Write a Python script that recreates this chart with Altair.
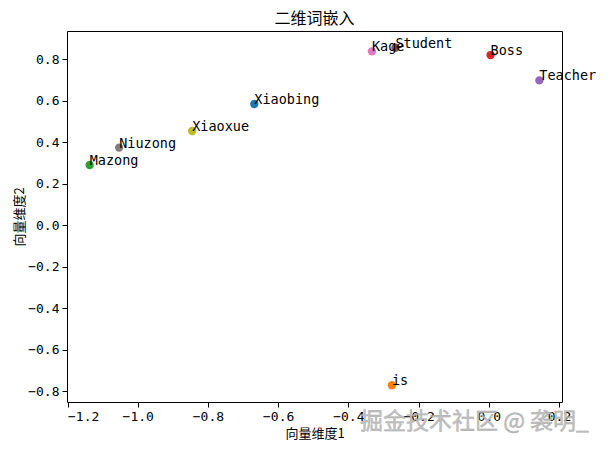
import altair as alt
import pandas as pd

words = ["Xiaobing", "is", "Mazong", "Boss", "Teacher", "Student", "Kage", "Niuzong", "Xiaoxue"]
dim1 = [-0.668, -0.276, -1.137, 0.005, 0.144, -0.266, -0.333, -1.053, -0.845]
dim2 = [0.583, -0.772, 0.289, 0.819, 0.697, 0.854, 0.837, 0.373, 0.453]
colors = ["#1f77b4", "#ff7f0e", "#2ca02c", "#d62728", "#9467bd",
          "#8c564b", "#e377c2", "#7f7f7f", "#bcbd22"]

x_ticks = [-1.2, -1.0, -0.8, -0.6, -0.4, -0.2, 0.0, 0.2]
y_ticks = [-0.8, -0.6, -0.4, -0.2, 0.0, 0.2, 0.4, 0.6, 0.8]
x_domain = [-1.2015, 0.2085]
y_domain = [-0.853, 0.935]

df = pd.DataFrame({"word": words, "d1": dim1, "d2": dim2})

LAT = "DejaVu Sans Mono, Noto Sans CJK SC"
CJK = "Noto Sans CJK SC"

x = alt.X("d1:Q", scale=alt.Scale(domain=x_domain, nice=False, zero=False),
          axis=alt.Axis(values=x_ticks, format=".1f", title="向量维度1",
                        titleFont=CJK, titleFontSize=13, titleFontWeight="normal",
                        titlePadding=4))
y = alt.Y("d2:Q", scale=alt.Scale(domain=y_domain, nice=False, zero=False),
          axis=alt.Axis(values=y_ticks, format=".1f", title="向量维度2",
                        titleFont=CJK, titleFontSize=13, titleFontWeight="normal",
                        titlePadding=1))

base = alt.Chart(df)

points = base.mark_circle(size=70, opacity=1).encode(
    x=x, y=y,
    color=alt.Color("word:N", scale=alt.Scale(domain=words, range=colors), legend=None),
)

labels = base.mark_text(align="left", baseline="alphabetic", font=LAT,
                        fontSize=13.5, color="black").encode(
    x=x, y=y, text="word:N"
)

wm_df = pd.DataFrame({"t": ["掘金技术社区 @ 袭明_"]})
watermark = alt.Chart(wm_df).mark_text(
    align="left", baseline="middle", font=CJK, fontSize=23,
    color="#bdbdbd", stroke="#9a9a9a", strokeWidth=0.4, opacity=0.9
).encode(x=alt.value(293), y=alt.value(391), text="t:N")

chart = alt.layer(points, labels, watermark).properties(
    width=495, height=371,
    title=alt.TitleParams("二维词嵌入", font=CJK, fontSize=16, fontWeight="normal",
                          anchor="middle", offset=4, color="black"),
    autosize=alt.AutoSizeParams(type="none"),
    padding={"left": 59, "top": 23, "right": 37, "bottom": 41},
).configure_view(
    stroke="black", strokeWidth=1
).configure_axis(
    grid=False, domain=False, tickColor="black", tickSize=5, tickWidth=1,
    labelFont=LAT, labelFontSize=13, labelColor="black", labelPadding=3,
    titleColor="black"
)

chart.save("out.html", embed_options={"renderer": "svg", "actions": False})
